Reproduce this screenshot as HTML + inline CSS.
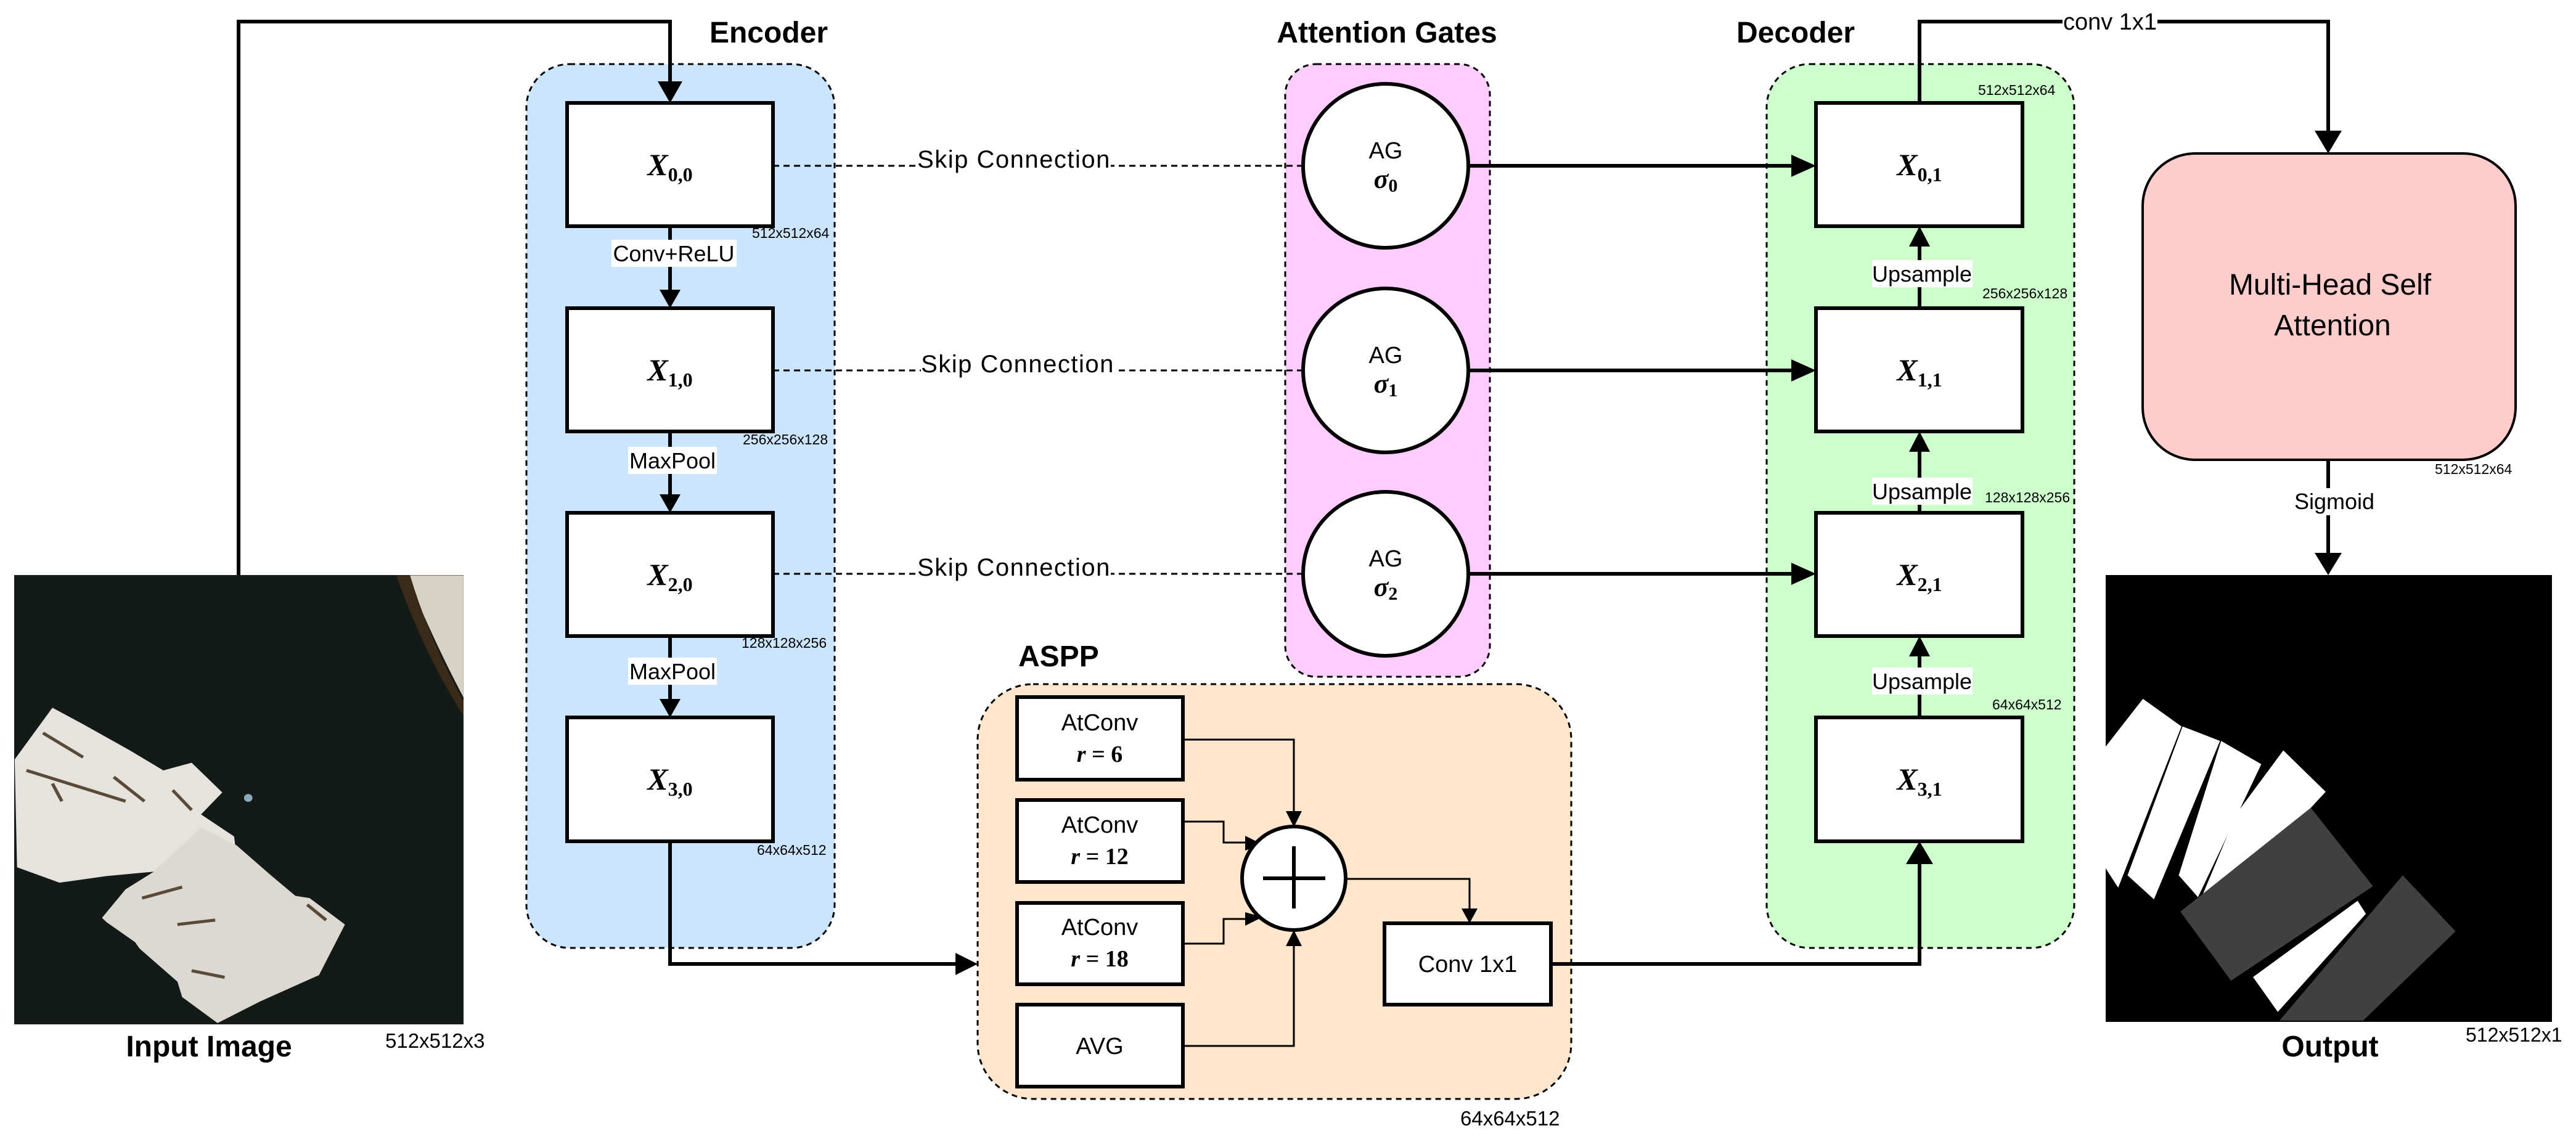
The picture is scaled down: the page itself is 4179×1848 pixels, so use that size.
<!DOCTYPE html>
<html><head><meta charset="utf-8"><style>
html,body{margin:0;padding:0;background:#fff;}
svg{display:block;}
text{font-family:"Liberation Sans",sans-serif;}
.m{font-family:"Liberation Serif",serif;font-weight:bold;font-style:italic;}
.ms{font-family:"Liberation Serif",serif;font-weight:bold;}
</style></head><body>
<svg width="4179" height="1848" viewBox="0 0 4179 1848" xmlns="http://www.w3.org/2000/svg">
<!-- group containers -->
<rect x="854" y="104" width="500" height="1434" rx="70" fill="#cce5ff" stroke="#000" stroke-width="3" stroke-dasharray="9,7"/>
<rect x="2085" y="104" width="332" height="994" rx="50" fill="#ffccff" stroke="#000" stroke-width="3" stroke-dasharray="9,7"/>
<rect x="2866" y="104" width="499" height="1434" rx="70" fill="#ccffcc" stroke="#000" stroke-width="3" stroke-dasharray="9,7"/>
<rect x="1586" y="1110" width="963" height="673" rx="90" fill="#ffe6cc" stroke="#000" stroke-width="3" stroke-dasharray="9,7"/>

<text x="1247" y="69" font-size="48" font-weight="bold" text-anchor="middle">Encoder</text>
<text x="2250" y="69" font-size="48" font-weight="bold" text-anchor="middle">Attention Gates</text>
<text x="2817" y="69" font-size="48" font-weight="bold">Decoder</text>
<text x="1652" y="1081" font-size="48" font-weight="bold">ASPP</text>

<!-- input image -->
<rect x="23" y="933" width="729" height="729" fill="#141a17"/>
<g transform="scale(0.8929,1.1786)">
<path d="M740,792 L842,792 L842,960 Q800,900 760,830 Z" fill="#d8d2c4"/>
<path d="M720,792 L745,792 Q780,880 842,965 L842,985 Q770,900 720,792Z" fill="#3a2a18"/>
</g>
<g transform="translate(20,1100) scale(0.3827,0.3571)">
<polygon points="10,370 170,135 300,210 500,330 640,420 760,385 890,520 800,620 940,720 950,800 600,880 400,900 200,930 20,860" fill="#e6e3de"/>
<polygon points="380,1090 480,960 600,880 800,680 950,760 1100,900 1200,990 1260,1000 1410,1120 1300,1350 1050,1470 870,1568 720,1450 700,1380 540,1230 520,1200 400,1110" fill="#dcd8d2"/>
<g stroke="#5a4a38" stroke-width="14" fill="none">
<path d="M130,250 L300,360 M60,420 L480,560 M170,480 L210,560 M430,450 L560,560 M680,510 L760,600"/>
<path d="M550,1000 L720,950 M700,1120 L860,1100 M760,1330 L900,1360 M1250,1030 L1330,1100"/>
</g>
<circle cx="1000" cy="545" r="18" fill="#8ab"/>
</g>
<text x="339" y="1714" font-size="48" font-weight="bold" text-anchor="middle">Input Image</text>
<text x="625" y="1700" font-size="33">512x512x3</text>

<!-- output image -->
<rect x="3416" y="933" width="724" height="725" fill="#000"/>
<g transform="translate(2780,0) scale(0.8929,1.1786)">
<polygon points="712,1028 780,962 850,1000 735,1222 712,1195" fill="#fff"/>
<polygon points="852,1000 920,1020 800,1238 752,1205" fill="#fff"/>
<polygon points="922,1020 995,1052 880,1235 845,1205" fill="#fff"/>
<polygon points="1035,1033 1112,1090 1085,1112 885,1238 950,1120" fill="#fff"/>
<polygon points="848,1255 1085,1112 1198,1220 940,1350" fill="#404040"/>
<polygon points="1028,1405 1252,1205 1348,1282 1180,1405" fill="#404040"/>
<polygon points="980,1345 1170,1240 1185,1258 1025,1393" fill="#fff"/>
</g>
<text x="3780" y="1714" font-size="48" font-weight="bold" text-anchor="middle">Output</text>
<text x="4000" y="1690" font-size="32">512x512x1</text>

<!-- connectors (thick) -->
<g stroke="#000" stroke-width="6" fill="none">
<polyline points="387,933 387,35 1087,35 1087,140"/>
<line x1="1087" y1="367" x2="1087" y2="478"/>
<line x1="1087" y1="700" x2="1087" y2="810"/>
<line x1="1087" y1="1032" x2="1087" y2="1142"/>
<polyline points="1087,1365 1087,1564 1558,1564"/>
<line x1="2382" y1="269" x2="2918" y2="269"/>
<line x1="2382" y1="601" x2="2918" y2="601"/>
<line x1="2382" y1="931" x2="2918" y2="931"/>
<line x1="3114" y1="500" x2="3114" y2="392"/>
<line x1="3114" y1="832" x2="3114" y2="725"/>
<line x1="3114" y1="1164" x2="3114" y2="1057"/>
<polyline points="2516,1564 3114,1564 3114,1395"/>
<polyline points="3114,167 3114,35 3777,35 3777,220"/>
<line x1="3777" y1="746" x2="3777" y2="905"/>
</g>
<g fill="#000">
<polygon points="1067,132 1107,132 1087,167"/>
<polygon points="1070,470 1104,470 1087,500"/>
<polygon points="1070,802 1104,802 1087,832"/>
<polygon points="1070,1134 1104,1134 1087,1164"/>
<polygon points="1550,1546 1550,1582 1586,1564"/>
<polygon points="2906,251 2906,287 2946,269"/>
<polygon points="2906,583 2906,619 2946,601"/>
<polygon points="2906,913 2906,949 2946,931"/>
<polygon points="3097,400 3131,400 3114,367"/>
<polygon points="3097,733 3131,733 3114,700"/>
<polygon points="3097,1065 3131,1065 3114,1032"/>
<polygon points="3092,1402 3136,1402 3114,1365"/>
<polygon points="3755,212 3799,212 3777,249"/>
<polygon points="3755,897 3799,897 3777,933"/>
</g>

<!-- dashed skip connections -->
<g stroke="#000" stroke-width="3" stroke-dasharray="10,7">
<line x1="1254" y1="269" x2="2114" y2="269"/>
<line x1="1254" y1="601" x2="2114" y2="601"/>
<line x1="1254" y1="931" x2="2114" y2="931"/>
</g>
<g font-size="40" text-anchor="middle">
<rect x="1488" y="236" width="314" height="46" fill="#fff"/>
<text x="1645" y="272" letter-spacing="1.5">Skip Connection</text>
<rect x="1494" y="568" width="314" height="46" fill="#fff"/>
<text x="1651" y="604" letter-spacing="1.5">Skip Connection</text>
<rect x="1488" y="898" width="314" height="46" fill="#fff"/>
<text x="1645" y="934" letter-spacing="1.5">Skip Connection</text>
</g>

<!-- boxes -->
<g fill="#fff" stroke="#000" stroke-width="6">
<rect x="920" y="167" width="334" height="200"/>
<rect x="920" y="500" width="334" height="200"/>
<rect x="920" y="832" width="334" height="200"/>
<rect x="920" y="1164" width="334" height="201"/>
<rect x="2946" y="167" width="335" height="200"/>
<rect x="2946" y="500" width="335" height="200"/>
<rect x="2946" y="832" width="335" height="200"/>
<rect x="2946" y="1164" width="335" height="201"/>
</g>
<g font-size="50" text-anchor="middle">
<text x="1087" y="284"><tspan class="m">X</tspan><tspan class="ms" font-size="32" dy="10">0,0</tspan></text>
<text x="1087" y="617"><tspan class="m">X</tspan><tspan class="ms" font-size="32" dy="10">1,0</tspan></text>
<text x="1087" y="949"><tspan class="m">X</tspan><tspan class="ms" font-size="32" dy="10">2,0</tspan></text>
<text x="1087" y="1281"><tspan class="m">X</tspan><tspan class="ms" font-size="32" dy="10">3,0</tspan></text>
<text x="3114" y="284"><tspan class="m">X</tspan><tspan class="ms" font-size="32" dy="10">0,1</tspan></text>
<text x="3114" y="617"><tspan class="m">X</tspan><tspan class="ms" font-size="32" dy="10">1,1</tspan></text>
<text x="3114" y="949"><tspan class="m">X</tspan><tspan class="ms" font-size="32" dy="10">2,1</tspan></text>
<text x="3114" y="1281"><tspan class="m">X</tspan><tspan class="ms" font-size="32" dy="10">3,1</tspan></text>
</g>

<!-- labels -->
<g font-size="36" text-anchor="middle">
<rect x="992" y="389" width="203" height="44" fill="#fff"/>
<text x="1093" y="424">Conv+ReLU</text>
<rect x="1019" y="725" width="144" height="44" fill="#fff"/>
<text x="1091" y="760">MaxPool</text>
<rect x="1019" y="1067" width="144" height="44" fill="#fff"/>
<text x="1091" y="1102">MaxPool</text>
<rect x="3037" y="422" width="163" height="44" fill="#fff"/>
<text x="3118" y="457">Upsample</text>
<rect x="3037" y="775" width="163" height="44" fill="#fff"/>
<text x="3118" y="810">Upsample</text>
<rect x="3037" y="1083" width="163" height="44" fill="#fff"/>
<text x="3118" y="1118">Upsample</text>
<rect x="3346" y="13" width="154" height="44" fill="#fff"/>
<text x="3423" y="48" font-size="38">conv 1x1</text>
<rect x="3720" y="792" width="124" height="44" fill="#fff"/>
<text x="3787" y="826">Sigmoid</text>
</g>

<!-- size labels -->
<g font-size="23">
<text x="1220" y="386">512x512x64</text>
<text x="1205" y="721">256x256x128</text>
<text x="1203" y="1051">128x128x256</text>
<text x="1228" y="1387">64x64x512</text>
<text x="3209" y="154">512x512x64</text>
<text x="3216" y="484">256x256x128</text>
<text x="3220" y="815">128x128x256</text>
<text x="3232" y="1151">64x64x512</text>
<text x="3950" y="769">512x512x64</text>
</g>
<text x="2369" y="1826" font-size="33">64x64x512</text>

<!-- attention gates -->
<g fill="#fff" stroke="#000" stroke-width="6">
<ellipse cx="2248" cy="269" rx="134" ry="133"/>
<ellipse cx="2248" cy="601" rx="134" ry="133"/>
<ellipse cx="2248" cy="931" rx="134" ry="133"/>
</g>
<g font-size="38" text-anchor="middle">
<text x="2248" y="257">AG</text>
<text x="2248" y="589">AG</text>
<text x="2248" y="919">AG</text>
<text x="2248" y="305"><tspan class="m" font-size="44">σ</tspan><tspan class="ms" font-size="30" dy="6">0</tspan></text>
<text x="2248" y="637"><tspan class="m" font-size="44">σ</tspan><tspan class="ms" font-size="30" dy="6">1</tspan></text>
<text x="2248" y="967"><tspan class="m" font-size="44">σ</tspan><tspan class="ms" font-size="30" dy="6">2</tspan></text>
</g>

<!-- MHSA -->
<rect x="3476" y="249" width="605" height="497" rx="85" fill="#ffcccc" stroke="#000" stroke-width="4"/>
<text x="3780" y="478" font-size="48" text-anchor="middle">Multi-Head Self</text>
<text x="3784" y="544" font-size="48" text-anchor="middle">Attention</text>

<!-- ASPP internals -->
<g stroke="#000" stroke-width="3" fill="none">
<polyline points="1919,1200 2099,1200 2099,1320"/>
<polyline points="1919,1333 1985,1333 1985,1367 2025,1367"/>
<polyline points="1919,1531 1985,1531 1985,1491 2025,1491"/>
<polyline points="1919,1697 2099,1697 2099,1530"/>
<polyline points="2183,1426 2384,1426 2384,1478"/>
</g>
<g fill="#000">
<polygon points="2086,1316 2112,1316 2099,1342"/>
<polygon points="2086,1535 2112,1535 2099,1509"/>
<polygon points="2020,1356 2048,1370 2020,1380"/>
<polygon points="2020,1480 2048,1488 2020,1502"/>
<polygon points="2371,1474 2397,1474 2384,1498"/>
</g>
<g fill="#fff" stroke="#000" stroke-width="6">
<rect x="1650" y="1131" width="269" height="134"/>
<rect x="1650" y="1298" width="269" height="133"/>
<rect x="1650" y="1465" width="269" height="132"/>
<rect x="1650" y="1630" width="269" height="133"/>
<rect x="2246" y="1498" width="270" height="132"/>
<ellipse cx="2099" cy="1425" rx="84" ry="84"/>
</g>
<g stroke="#000" stroke-width="6">
<line x1="2049" y1="1425" x2="2150" y2="1425"/>
<line x1="2099" y1="1373" x2="2099" y2="1474"/>
</g>
<g font-size="38" text-anchor="middle">
<text x="1784" y="1185">AtConv</text>
<text x="1784" y="1236" class="ms"><tspan class="m">r</tspan> = 6</text>
<text x="1784" y="1351">AtConv</text>
<text x="1784" y="1402" class="ms"><tspan class="m">r</tspan> = 12</text>
<text x="1784" y="1517">AtConv</text>
<text x="1784" y="1568" class="ms"><tspan class="m">r</tspan> = 18</text>
<text x="1784" y="1710">AVG</text>
<text x="2381" y="1577">Conv 1x1</text>
</g>
</svg>
</body></html>
